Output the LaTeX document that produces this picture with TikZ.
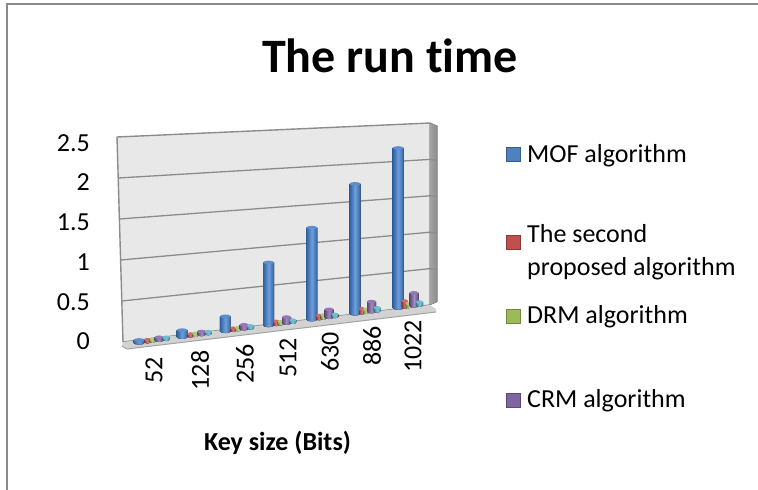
\documentclass[tikz,border=0pt]{standalone}
\usepackage{fontspec}
\setmainfont{Carlito}[Ligatures=NoCommon]
\definecolor{frameGray}{HTML}{8A8A8A}
\definecolor{wallGray}{HTML}{E8E8E8}
\definecolor{edgeGray}{HTML}{8C8C8C}
\definecolor{sideGray}{HTML}{A3A3A3}
\definecolor{floorGray}{HTML}{D2D2D2}
% series colours: D = shaded edge, L = highlight, T = top cap, C = key fill, E = key border
\definecolor{mofD}{HTML}{30609E}\definecolor{mofL}{HTML}{6F9FDB}\definecolor{mofT}{HTML}{5D8ECF}\definecolor{mofC}{HTML}{4F81BD}\definecolor{mofE}{HTML}{385D8A}
\definecolor{secD}{HTML}{8C3836}\definecolor{secL}{HTML}{DB7A77}\definecolor{secT}{HTML}{D46A66}\definecolor{secC}{HTML}{C0504D}\definecolor{secE}{HTML}{8C3836}
\definecolor{drmD}{HTML}{71893F}\definecolor{drmL}{HTML}{BBD48A}\definecolor{drmT}{HTML}{ADCA74}\definecolor{drmC}{HTML}{9BBB59}\definecolor{drmE}{HTML}{71893F}
\definecolor{crmD}{HTML}{5C4776}\definecolor{crmL}{HTML}{A28CC0}\definecolor{crmT}{HTML}{9479B6}\definecolor{crmC}{HTML}{8064A2}\definecolor{crmE}{HTML}{5C4776}
\definecolor{cynD}{HTML}{357D91}\definecolor{cynL}{HTML}{86CADC}\definecolor{cynT}{HTML}{6CBDD3}
\tikzset{
  frame/.style={draw=frameGray, line width=2pt},
  wallface/.style={fill=wallGray, draw=edgeGray, line width=1.4pt, line join=round},
  gridline/.style={draw=edgeGray, line width=1.3pt},
  ticklab/.style={font=\fontsize{26}{31}\selectfont, inner sep=0pt, anchor=east},
  catlab/.style={font=\fontsize{26}{31}\selectfont, inner sep=0pt, rotate=90, anchor=east},
  legtext/.style={font=\fontsize{26}{33}\selectfont, inner sep=0pt, align=left},
  legkey/.style={minimum size=14pt, inner sep=0pt, line width=0.8pt},
}
% a column standing on the floor: centre x, width, height, colour prefix
\newcommand\cyl[4]{%
  \pgfmathsetmacro\cylx{#1}%
  \pgfmathsetmacro\cylb{337-0.1349*(\cylx-183)}%
  \pgfmathsetmacro\cylt{\cylb-#3}%
  \pgfmathsetmacro\cylr{#2/2}%
  \fill[left color=#4D, right color=#4D, middle color=#4L]
    ({\cylx-\cylr},\cylb) -- ({\cylx-\cylr},\cylt) -- ({\cylx+\cylr},\cylt) -- ({\cylx+\cylr},\cylb)
    arc[start angle=0, end angle=180, x radius=\cylr, y radius=1.8] -- cycle;
  \fill[#4T] (\cylx,\cylt) ellipse[x radius=\cylr, y radius=1.8];
}
\begin{document}
\begin{tikzpicture}[x=1pt, y=-1pt]
\useasboundingbox (0,0) rectangle (758,490);
\fill[white] (0,0) rectangle (758,490);
\draw[frame] (7,490) -- (7,4) -- (758,4);

% title
\node[font=\fontsize{48}{58}\selectfont\bfseries, inner sep=0pt, anchor=base] (title) at (390,72) {The run time};

% back wall with its side edge
\draw[wallface] (117,137) -- (430,123) -- (430,305) -- (123,342) -- cycle;
\fill[left color=sideGray, right color=edgeGray] (430,123) -- (437,126) -- (437,302) -- (430,305) -- cycle;
\draw[edgeGray, line width=1pt] (430,123) -- (437,126) -- (437,302);

% grid lines
\foreach \v in {0.5,1,1.5,2} {
  \draw[gridline] ({123-2.4*\v},{342-82*\v}) -- (430,{305-72.8*\v}) -- (437,{306-72.8*\v});
}

% floor
\fill[floorGray] (123,342) -- (430,305) -- (436,309) -- (436,312) -- (127,349) -- (122,346) -- cycle;
\draw[edgeGray!80, line width=1pt] (122,346) -- (127,349) -- (436,312);

% columns: category / MOF / second / DRM / CRM / fifth series
\foreach \i/\hb/\hr/\hg/\hp/\hc in {0/3/2/2/3/2, 1/7/2/2/3/2, 2/15/2/2/4/2, 3/63/3/2/6/2, 4/92/3/3/8/2, 5/130/4/3/10/3, 6/160/6/3/13/3} {
  \pgfmathsetmacro\cc{139+43.2*\i}
  \pgfmathsetmacro\sc{1-0.035*\i}
  \cyl{\cc}{11}{\hb}{mof}
  \cyl{\cc+8.5*\sc}{6}{\hr}{sec}
  \cyl{\cc+13.5*\sc}{6}{\hg}{drm}
  \cyl{\cc+20*\sc}{9}{\hp}{crm}
  \cyl{\cc+27*\sc}{7}{\hc}{cyn}
}

% value axis labels
\node[ticklab] (y25) at (90,143) {2.5};
\node[ticklab] (y20) at (90,182) {2};
\node[ticklab] (y15) at (90,222) {1.5};
\node[ticklab] (y10) at (90,262) {1};
\node[ticklab] (y05) at (90,302) {0.5};
\node[ticklab] (y00) at (90,341) {0};

% category labels
\node[catlab] (c1) at (154,357) {52};
\node[catlab] (c2) at (200,350.5) {128};
\node[catlab] (c3) at (245,344) {256};
\node[catlab] (c4) at (288,338) {512};
\node[catlab] (c5) at (330,332) {630};
\node[catlab] (c6) at (372,326) {886};
\node[catlab] (c7) at (413,320) {1022};

\node[font=\fontsize{26}{31}\selectfont\bfseries, inner sep=0pt, anchor=base] (xtitle) at (277.5,450) {Key size (Bits)};

% legend
\node[legkey, fill=mofC, draw=mofE] (k1) at (513,154.5) {};
\node[legkey, fill=secC, draw=secE] (k2) at (513,242.5) {};
\node[legkey, fill=drmC, draw=drmE] (k3) at (513,316) {};
\node[legkey, fill=crmC, draw=crmE] (k4) at (513,400) {};
\node[legtext, anchor=base west] (l1) at (527,162) {MOF algorithm};
\node[legtext, anchor=north west] (l2) at (527,224) {The second\\proposed algorithm};
\node[legtext, anchor=base west] (l3) at (527,323) {DRM algorithm};
\node[legtext, anchor=base west] (l4) at (527,407) {CRM algorithm};
\end{tikzpicture}
\end{document}
